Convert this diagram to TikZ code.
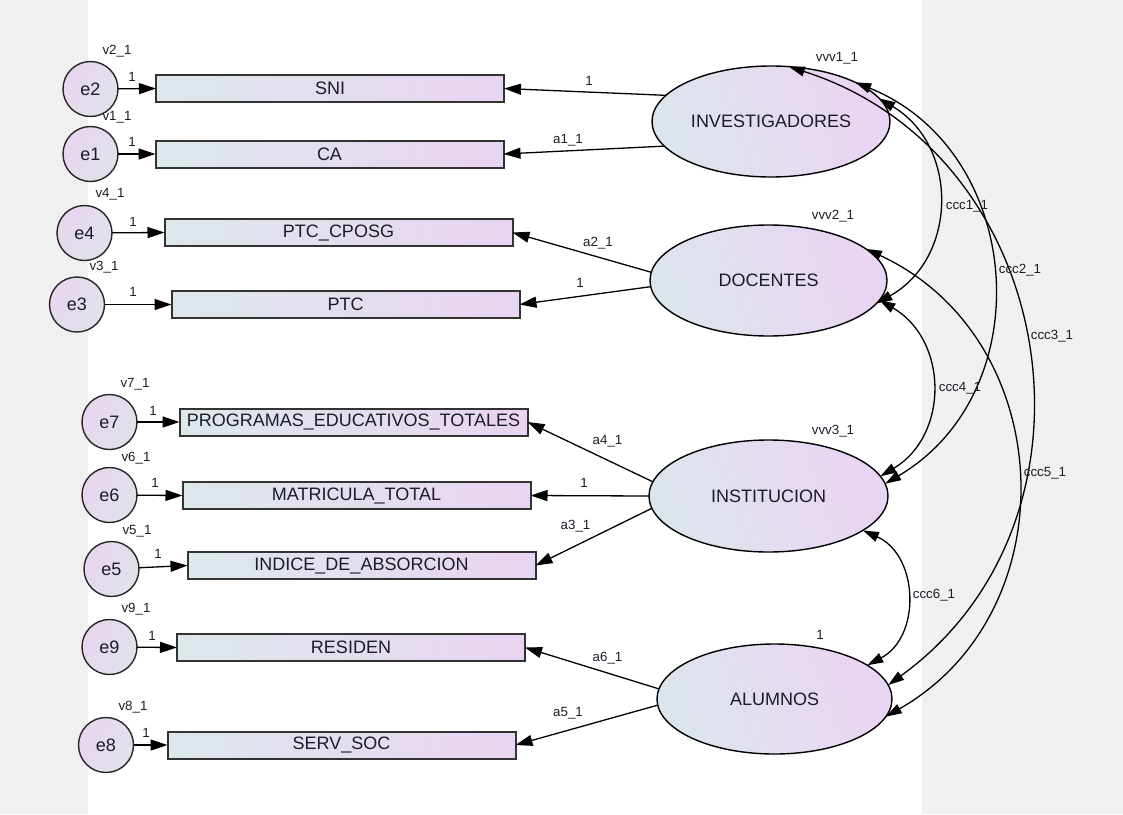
\documentclass[tikz,border=0pt]{standalone}
\usepackage{fontspec}
\setmainfont{Liberation Sans}
\usetikzlibrary{shapes.geometric,arrows.meta}
\definecolor{panel}{HTML}{F0F0F0}
\definecolor{ink}{HTML}{1C1C28}
\definecolor{boxedge}{HTML}{333333}
\definecolor{boxleft}{HTML}{DDE8EB}
\definecolor{boxright}{HTML}{E9D4F1}
\definecolor{latleft}{HTML}{DDE5EC}
\definecolor{latright}{HTML}{EAD4F3}
\definecolor{errleft}{HTML}{E8D6EF}
\definecolor{errright}{HTML}{DFE2EA}
\begin{document}
\begin{tikzpicture}[x=1pt,y=-1pt,
  bigfont/.style={font=\fontsize{18}{20}\selectfont},
  smallfont/.style={font=\fontsize{13.3}{15}\selectfont},
  obsbox/.style={rectangle, draw=boxedge, line width=2pt, minimum width=348pt,
    minimum height=27pt, inner sep=0pt, outer sep=0pt,
    left color=boxleft, right color=boxright, text=ink, bigfont},
  latent/.style={ellipse, draw=black, line width=1.4pt, inner sep=0pt, outer sep=0pt,
    left color=latleft, right color=latright, shading angle=110, text=ink, bigfont},
  errc/.style={circle, draw=black!85, line width=1.4pt, minimum size=55pt,
    inner sep=0pt, outer sep=0pt, left color=errleft, right color=errright,
    shading angle=60, text=ink, bigfont},
  lbl/.style={inner sep=0pt, text=ink, smallfont},
  loadarrow/.style={line width=1.3pt, -{Triangle[length=17pt,width=11pt]}},
  cov/.style={line width=1.3pt, looseness=1.16,
    {Triangle[length=16pt,width=10pt]}-{Triangle[length=16pt,width=10pt]}},
]
% canvas: grey side panels, white drawing area
\fill[panel] (0,0) rectangle (1123,814);
\fill[white] (88,0) rectangle (922,814);
\useasboundingbox (0,0) rectangle (1123,814);

% latent factors
\node[latent, minimum width=238pt, minimum height=111pt] (inv)  at (771,121.5) {INVESTIGADORES};
\node[latent, minimum width=237pt, minimum height=111pt] (doc)  at (768.5,280.5) {DOCENTES};
\node[latent, minimum width=239pt, minimum height=112pt] (inst) at (768.5,496) {INSTITUCION};
\node[latent, minimum width=235pt, minimum height=110pt] (alum) at (774.5,699) {ALUMNOS};

% observed indicators
\node[obsbox] (sni)  at (330,88.5)  {SNI};
\node[obsbox] (ca)   at (329.5,154) {CA};
\node[obsbox] (ptcc) at (338.5,232.5) {PTC\_CPOSG};
\node[obsbox] (ptc)  at (345.5,304.5) {PTC};
\node[obsbox] (prog) at (353.5,422) {PROGRAMAS\_EDUCATIVOS\_TOTALES};
\node[obsbox] (matr) at (356.5,495.5) {MATRICULA\_TOTAL};
\node[obsbox] (indi) at (361.5,565.5) {INDICE\_DE\_ABSORCION};
\node[obsbox] (resi) at (351,647.5) {RESIDEN};
\node[obsbox] (serv) at (341.5,745) {SERV\_SOC};

% error terms
\node[errc] (e2) at (90.5,89)   {e2};
\node[errc] (e1) at (90.5,154)  {e1};
\node[errc] (e4) at (84.5,233)  {e4};
\node[errc] (e3) at (77,304.5)  {e3};
\node[errc] (e7) at (109.5,422) {e7};
\node[errc] (e6) at (109.5,495) {e6};
\node[errc] (e5) at (111.5,569) {e5};
\node[errc] (e9) at (109.5,647) {e9};
\node[errc] (e8) at (106,745)   {e8};

% error paths
\draw[loadarrow] (e2) -- (sni.west);
\draw[loadarrow] (e1) -- (ca.west);
\draw[loadarrow] (e4) -- (ptcc.west);
\draw[loadarrow] (e3) -- (ptc.west);
\draw[loadarrow] (e7) -- (prog.west);
\draw[loadarrow] (e6) -- (matr.west);
\draw[loadarrow] (e5) -- (indi.west);
\draw[loadarrow] (e9) -- (resi.west);
\draw[loadarrow] (e8) -- (serv.west);

% factor loadings
\draw[loadarrow] (inv.166) -- (sni.east);
\draw[loadarrow] (inv.193.5) -- (ca.east);
\draw[loadarrow] (doc.176.5) -- (ptcc.east);
\draw[loadarrow] (doc.183.1) -- (ptc.east);
\draw[loadarrow] (inst.173.3) -- (prog.east);
\draw[loadarrow] (inst.180) -- (matr.east);
\draw[loadarrow] (inst.186.3) -- (indi.east);
\draw[loadarrow] (alum.175.6) -- (resi.east);
\draw[loadarrow] (alum.183.9) -- (serv.east);

% factor covariances
\draw[cov] (inv.12.3)  to[bend left=60]   (doc.348.4);
\draw[cov] (inv.25.2)  to[bend left=63.7] (inst.6.9);
\draw[cov] (inv.72.4)  to[bend left=63.2] (alum.7.9);
\draw[cov] (doc.350.3) to[bend left=59.5] (inst.10.5);
\draw[cov] (doc.18.6)  to[bend left=62.7] (alum.351);
\draw[cov] (inst.340.2) to[bend left=64]  (alum.20.7);

% error variance labels
\node[lbl] (lv2) at (117,51)  {v2\_1};
\node[lbl] (lv1) at (117,117) {v1\_1};
\node[lbl] (lv4) at (110,194) {v4\_1};
\node[lbl] (lv3) at (104,267) {v3\_1};
\node[lbl] (lv7) at (135,384) {v7\_1};
\node[lbl] (lv6) at (136,458) {v6\_1};
\node[lbl] (lv5) at (137,531) {v5\_1};
\node[lbl] (lv9) at (136,609) {v9\_1};
\node[lbl] (lv8) at (133,707) {v8\_1};

% fixed error weights
\node[lbl] (w2) at (132,77)  {1};
\node[lbl] (w1) at (132,142) {1};
\node[lbl] (w4) at (133,222) {1};
\node[lbl] (w3) at (133,292) {1};
\node[lbl] (w7) at (153,411) {1};
\node[lbl] (w6) at (155,483) {1};
\node[lbl] (w5) at (158,554) {1};
\node[lbl] (w9) at (152,636) {1};
\node[lbl] (w8) at (146,733) {1};

% factor variance labels
\node[lbl] (fv1) at (837,58)    {vvv1\_1};
\node[lbl] (fv2) at (833,216.5) {vvv2\_1};
\node[lbl] (fv3) at (833,431.5) {vvv3\_1};
\node[lbl] (fv4) at (820,635)   {1};

% loading labels
\node[lbl] (l1) at (589,81)    {1};
\node[lbl] (l2) at (568,140)   {a1\_1};
\node[lbl] (l3) at (598,243)   {a2\_1};
\node[lbl] (l4) at (580,283)   {1};
\node[lbl] (l5) at (607.5,441) {a4\_1};
\node[lbl] (l6) at (584,483)   {1};
\node[lbl] (l7) at (575.5,526) {a3\_1};
\node[lbl] (l8) at (607.5,658) {a6\_1};
\node[lbl] (l9) at (568,713)   {a5\_1};

% covariance labels
\node[lbl] (c1) at (967,206)  {ccc1\_1};
\node[lbl] (c2) at (1020,270) {ccc2\_1};
\node[lbl] (c3) at (1052,336) {ccc3\_1};
\node[lbl] (c4) at (960,388)  {ccc4\_1};
\node[lbl] (c5) at (1045,473) {ccc5\_1};
\node[lbl] (c6) at (934,595)  {ccc6\_1};
\end{tikzpicture}
\end{document}
